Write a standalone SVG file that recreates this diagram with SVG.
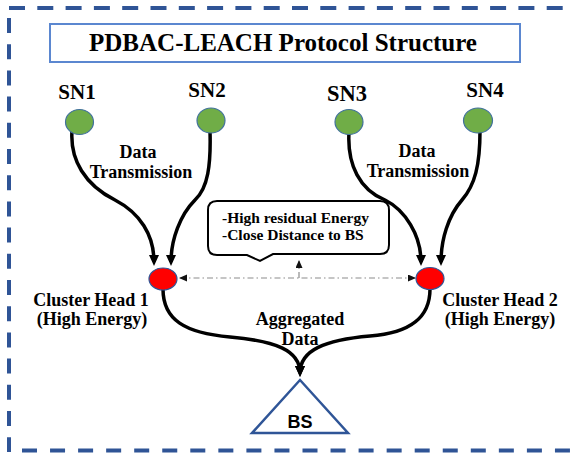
<svg xmlns="http://www.w3.org/2000/svg" width="571" height="453" viewBox="0 0 571 453">
  <defs>
    <style>
      .frame { fill: none; stroke: #2F5496; stroke-width: 4; }
      .lbl { font-family: "Liberation Serif", "Times New Roman", serif; font-weight: bold; fill: #000; }
      .sn { fill: #70AD47; stroke: #41719C; stroke-width: 1.2; }
      .ch { fill: #FF0000; stroke: #2F5597; stroke-width: 1.2; }
      .flow { fill: none; stroke: #000; stroke-width: 3.5; }
      .link { fill: none; stroke: #8C8C8C; stroke-width: 1.2; stroke-dasharray: 6 3 1.5 3; }
    </style>
    <marker id="arrow" markerUnits="userSpaceOnUse" markerWidth="12" markerHeight="11" refX="7" refY="5" orient="auto">
      <path d="M0,0 L11,5 L0,10 z" fill="#000"/>
    </marker>
    <marker id="tip" markerUnits="userSpaceOnUse" markerWidth="9" markerHeight="8" refX="7" refY="3.5" orient="auto-start-reverse">
      <path d="M0,0 L8,3.5 L0,7 z" fill="#111"/>
    </marker>
  </defs>

  <rect width="571" height="453" fill="#fff"/>

  <!-- dashed outer frame -->
  <g id="frame">
    <path class="frame" d="M9,8 H571" stroke-dasharray="16 12.3"/>
    <path class="frame" d="M9,18 V452" stroke-dasharray="15 11.2"/>
    <path class="frame" d="M22,450.5 H571" stroke-dasharray="15 13.05"/>
  </g>

  <!-- title -->
  <g id="title">
    <rect x="50" y="24" width="470" height="38" fill="#fff" stroke="#5B87D0" stroke-width="2"/>
    <text class="lbl" x="283" y="51" font-size="25" text-anchor="middle">PDBAC-LEACH Protocol Structure</text>
  </g>

  <!-- connectors -->
  <g id="connectors">
    <path class="flow" d="M72,131 C70,160 85,185 115,200 C140,213 154,235 154,262" marker-end="url(#arrow)"/>
    <path class="flow" d="M210,131 C211,165 208,188 195,200 C180,215 171,240 171,262" marker-end="url(#arrow)"/>
    <path class="flow" d="M349,132 C347,165 360,190 385,200 C405,210 421,235 421,262" marker-end="url(#arrow)"/>
    <path class="flow" d="M480,131 C480,165 475,185 462,200 C448,216 441,240 441,262" marker-end="url(#arrow)"/>
    <path class="flow" d="M163,289 C163,320 185,333 230,337 C275,341 300,350 300,373" marker-end="url(#arrow)"/>
    <path class="flow" d="M430,289 C430,318 410,333 370,336 C325,340 300,350 300,373" marker-end="url(#arrow)"/>
    <path class="link" d="M180,278 H415" marker-start="url(#tip)" marker-end="url(#tip)"/>
    <path class="link" d="M299,278 V261" marker-end="url(#tip)"/>
  </g>

  <!-- sensor nodes -->
  <g id="sn1">
    <ellipse class="sn" cx="79.5" cy="122" rx="14" ry="12.5"/>
    <text class="lbl" x="77" y="99" font-size="21" text-anchor="middle">SN1</text>
  </g>
  <g id="sn2">
    <ellipse class="sn" cx="211" cy="120.5" rx="14" ry="12.5"/>
    <text class="lbl" x="207" y="97" font-size="21" text-anchor="middle">SN2</text>
  </g>
  <g id="sn3">
    <ellipse class="sn" cx="349" cy="122" rx="14" ry="12.5"/>
    <text class="lbl" x="347" y="101" font-size="22.5" text-anchor="middle">SN3</text>
  </g>
  <g id="sn4">
    <ellipse class="sn" cx="478" cy="120.5" rx="14.5" ry="12.5"/>
    <text class="lbl" x="485" y="97" font-size="21" text-anchor="middle">SN4</text>
  </g>

  <!-- transmission labels -->
  <g id="tx-left">
    <text class="lbl" font-size="18" text-anchor="middle"><tspan x="138" y="158">Data</tspan><tspan x="141" y="178">Transmission</tspan></text>
  </g>
  <g id="tx-right">
    <text class="lbl" font-size="18" text-anchor="middle"><tspan x="417" y="157">Data</tspan><tspan x="418" y="177">Transmission</tspan></text>
  </g>

  <!-- selection criteria callout -->
  <g id="criteria">
    <path d="M217,201 H380 Q389,201 389,210 V245 Q389,254 380,254 H273 L260,261 L247,255 H217 Q208,255 208,246 V210 Q208,201 217,201 Z" fill="#fff" stroke="#000" stroke-width="2"/>
    <text class="lbl" font-size="15.5"><tspan x="222" y="223">-High residual Energy</tspan><tspan x="222" y="240">-Close Distance to BS</tspan></text>
  </g>

  <!-- cluster heads -->
  <g id="ch1">
    <ellipse class="ch" cx="163" cy="279" rx="14" ry="11"/>
    <text class="lbl" font-size="18" text-anchor="middle"><tspan x="91" y="306">Cluster Head 1</tspan><tspan x="92" y="325">(High Energy)</tspan></text>
  </g>
  <g id="ch2">
    <ellipse class="ch" cx="430" cy="278.5" rx="14" ry="11"/>
    <text class="lbl" font-size="18" text-anchor="middle"><tspan x="500" y="306">Cluster Head 2</tspan><tspan x="500" y="325">(High Energy)</tspan></text>
  </g>

  <!-- aggregation label -->
  <g id="agg">
    <text class="lbl" font-size="18" text-anchor="middle"><tspan x="300" y="325">Aggregated</tspan><tspan x="300" y="345">Data</tspan></text>
  </g>

  <!-- base station -->
  <g id="bs">
    <polygon points="300,380 348,433 252,433" fill="#fff" stroke="#2F5597" stroke-width="2.5" stroke-linejoin="miter"/>
    <text x="300" y="428" font-family="'Liberation Sans', Arial, sans-serif" font-weight="bold" font-size="18" text-anchor="middle" fill="#000">BS</text>
  </g>
</svg>
